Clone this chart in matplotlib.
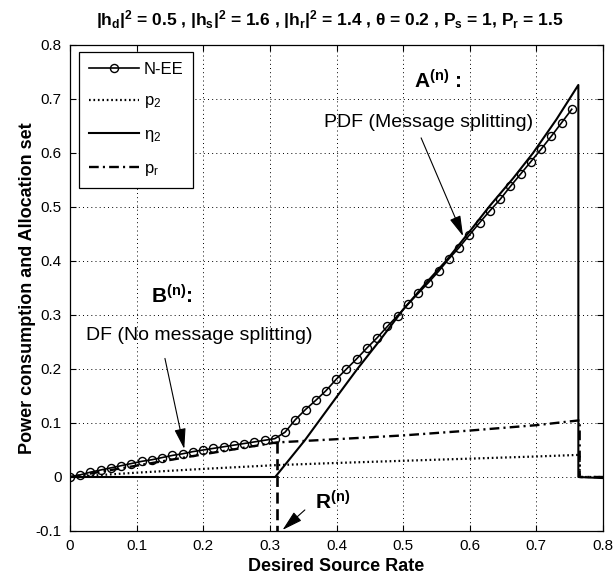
import matplotlib
matplotlib.use("Agg")
import matplotlib.pyplot as plt

plt.rcParams['font.family'] = ['Liberation Sans', 'DejaVu Sans']
plt.rcParams['mathtext.fontset'] = 'custom'
plt.rcParams['mathtext.rm'] = 'Liberation Sans'
plt.rcParams['mathtext.it'] = 'Liberation Sans'
plt.rcParams['mathtext.bf'] = 'Liberation Sans:bold'
plt.rcParams['mathtext.default'] = 'regular'
plt.rcParams['lines.scale_dashes'] = False

# ---------------- data ----------------
nee_x = [0, .0154, .0307, .0461, .0615, .0769, .0922, .1076, .1230, .1383,
         .1537, .1691, .1844, .1998, .2152, .2306, .2459, .2613, .2767, .2920,
         .3074, .3228, .3381, .3535, .3689, .3843, .3996, .4150, .4304, .4457,
         .4611, .4765, .4918, .5072, .5226, .5380, .5533, .5687, .5841, .5994,
         .6148, .6302, .6455, .6609, .6763, .6917, .7070, .7224, .7378, .7531]
nee_y = [0, 0.004, 0.009, 0.013, 0.017, 0.021, 0.025, 0.029, 0.032, 0.036,
         0.040, 0.043, 0.047, 0.050, 0.053, 0.056, 0.059, 0.062, 0.065, 0.068,
         0.071, 0.083, 0.106, 0.125, 0.142, 0.160, 0.181, 0.200, 0.219, 0.239,
         0.258, 0.279, 0.299, 0.320, 0.340, 0.360, 0.381, 0.404, 0.425, 0.448,
         0.471, 0.493, 0.514, 0.538, 0.561, 0.584, 0.607, 0.631, 0.656, 0.681]

p2_x = [0, 0.1, 0.2, 0.31, 0.4, 0.5, 0.6, 0.7, 0.765, 0.765, 0.8]
p2_y = [0, 0.008, 0.015, 0.022, 0.026, 0.030, 0.034, 0.038, 0.041, 0, 0]

eta2_x = [0, 0.308, 0.3525, 0.4, 0.43, 0.465, 0.5, 0.535, 0.565, 0.6, 0.63,
          0.665, 0.695, 0.73, 0.763, 0.763, 0.8]
eta2_y = [0, 0, 0.068, 0.148, 0.198, 0.253, 0.310, 0.360, 0.401, 0.455, 0.502,
          0.553, 0.600, 0.662, 0.726, 0, -0.002]

pr_x = [0, 0.1, 0.2, 0.31, 0.4, 0.5, 0.6, 0.7, 0.765, 0.765, 0.8]
pr_y = [0, 0.021, 0.042, 0.064, 0.070, 0.077, 0.086, 0.096, 0.105, 0, 0]

R_x = 0.31
R_top = 0.064

ticks_x = [0, 0.1, 0.2, 0.3, 0.4, 0.5, 0.6, 0.7, 0.8]
ticklabels_x = ['0', '0.1', '0.2', '0.3', '0.4', '0.5', '0.6', '0.7', '0.8']
ticks_y = [-0.1, 0, 0.1, 0.2, 0.3, 0.4, 0.5, 0.6, 0.7, 0.8]
ticklabels_y = ['-0.1', '0', '0.1', '0.2', '0.3', '0.4', '0.5', '0.6', '0.7', '0.8']

legend_labels = ['N-EE', 'p$_2$', 'η$_2$', 'p$_r$']
title = ('|h$_d$|$^2$ = 0.5 , |h$_s$|$^2$ = 1.6 , |h$_r$|$^2$ = 1.4 , '
         'θ = 0.2 , P$_s$ = 1, P$_r$ = 1.5')

# ---------------- figure ----------------
W, H = 613, 578
fig = plt.figure(figsize=(W / 100, H / 100), dpi=100)
L, R, T, B = 70, 603, 45, 531
ax = fig.add_axes([L / W, 1 - B / H, (R - L) / W, (B - T) / H])

ax.plot(nee_x, nee_y, '-', color='k', lw=1.2, marker='o', ms=5.8,
        mfc='none', mec='k', mew=1.0, label=legend_labels[0], zorder=5)
ax.plot(p2_x, p2_y, color='k', lw=1.6, dashes=(1.2, 2.0), label=legend_labels[1], zorder=4)
ax.plot(eta2_x, eta2_y, '-', color='k', lw=1.5, label=legend_labels[2], zorder=4)
ax.plot(pr_x, pr_y, color='k', lw=1.7, dashes=(7, 3, 1.5, 3), label=legend_labels[3], zorder=4)
ax.plot([R_x, R_x], [R_top, -0.1], color='k', lw=1.9, dashes=(8, 4), zorder=4)

ax.set_xlim(0, 0.8)
ax.set_ylim(-0.1, 0.8)
ax.set_xticks(ticks_x)
ax.set_xticklabels(ticklabels_x)
ax.set_yticks(ticks_y)
ax.set_yticklabels(ticklabels_y)
ax.tick_params(direction='in', length=4, width=0.8, top=True, right=True,
               labelsize=11, pad=6, colors='k')
ax.grid(True, color='k', lw=0.7, dashes=(0.7, 2.3))
for s in ax.spines.values():
    s.set_linewidth(0.9)

leg = ax.legend(loc='upper left', bbox_to_anchor=(8.7 / 533, 1 - 6.7 / 486),
                borderaxespad=0, fancybox=False, framealpha=1, edgecolor='k',
                fontsize=12, handlelength=3.0, handletextpad=0.3,
                labelspacing=1.0, borderpad=0.6, numpoints=1)
leg.get_frame().set_linewidth(0.9)

# annotations
ax.text(0.517, 0.7194, r'A$^{(n)}$ :', fontsize=15, fontweight='bold', ha='left', va='baseline')
ax.text(0.381, 0.649, 'PDF (Message splitting)', fontsize=14, ha='left', va='baseline')
ax.text(0.1215, 0.3214, r'B$^{(n)}$:', fontsize=15, fontweight='bold', ha='left', va='baseline')
ax.text(0.024, 0.2538, 'DF (No message splitting)', fontsize=14, ha='left', va='baseline')
ax.text(0.3675, -0.0609, r'R$^{(n)}$', fontsize=15, fontweight='bold', ha='left', va='baseline')

aprops = dict(arrowstyle='-|>,head_length=0.9,head_width=0.25', color='k', lw=0.8,
              mutation_scale=14, shrinkA=0, shrinkB=0)
ax.annotate('', xy=(0.590, 0.446), xytext=(0.527, 0.628), arrowprops=aprops, zorder=6)
ax.annotate('', xy=(0.1715, 0.052), xytext=(0.1425, 0.2196), arrowprops=aprops, zorder=6)
ax.annotate('', xy=(0.319, -0.098), xytext=(0.3525, -0.061), arrowprops=aprops, zorder=6)

fig.text(330 / W, 1 - 25 / H, title, fontsize=12.5, fontweight='bold',
         ha='center', va='baseline')
fig.text(336.5 / W, 1 - 571 / H, 'Desired Source Rate', fontsize=13,
         fontweight='bold', ha='center', va='baseline')
fig.text(28 / W, 1 - 288 / H, 'Power consumption and Allocation set', fontsize=13,
         fontweight='bold', ha='center', va='center', rotation=90)

fig.savefig('out.png', dpi=100)
